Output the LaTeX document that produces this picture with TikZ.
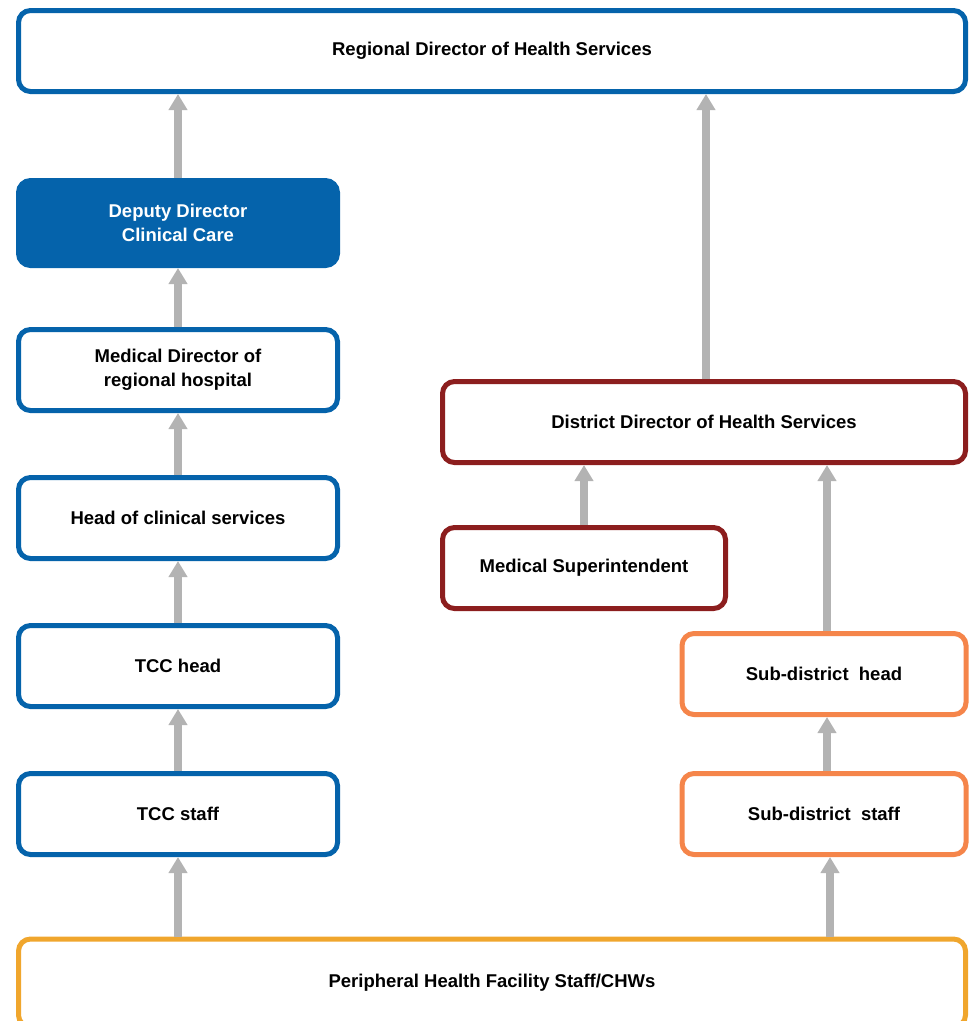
\documentclass[tikz,border=0pt]{standalone}
\usepackage{fontspec}
\setmainfont{Liberation Sans}
\usetikzlibrary{arrows.meta,calc}
\definecolor{regblue}{RGB}{5,99,171}
\definecolor{distred}{RGB}{140,30,30}
\definecolor{suborange}{RGB}{245,133,74}
\definecolor{periyellow}{RGB}{240,166,45}
\definecolor{arrgray}{RGB}{179,179,179}

\begin{document}
\begin{tikzpicture}[x=1pt, y=-1pt,
                        box/.style    ={rectangle, rounded corners=12pt, draw, line width=5pt, fill=white, align=center,
                                        minimum height=81pt, font=\fontsize{18.5}{24}\selectfont\bfseries},
                        left/.style   ={box, draw=regblue, minimum width=319pt},
                        dist/.style   ={box, draw=distred},
                        sub/.style    ={box, draw=suborange, minimum width=284pt},
                        up/.style     ={-{Triangle[width=18pt,length=16pt]}, draw, color=arrgray, line width=8pt}]

      \useasboundingbox (0, 0) rectangle (976, 1021);
      \node[box, draw=regblue, minimum width=947pt]        at(492,  51)  (regional) {Regional Director of Health Services};
      \node[left, fill=regblue, text=white, minimum height=85pt] at(178, 223) (deputy) {Deputy Director\\Clinical Care};
      \node[left]  at(178, 370)  (medDir)   {Medical Director of\\regional hospital};
      \node[left]  at(178, 518)  (head)     {Head of clinical services};
      \node[left]  at(178, 666)  (tccHead)  {TCC head};
      \node[left]  at(178, 814)  (tccStaff) {TCC staff};
      \node[dist, minimum width=523pt] at(704, 422)  (district) {District Director of Health Services};
      \node[dist, minimum width=283pt] at(584, 568)  (medSup)   {Medical Superintendent};
      \node[sub]   at(824, 674)  (subHead)  {Sub-district\ \ head};
      \node[sub]   at(824, 814)  (subStaff) {Sub-district\ \ staff};
      \node[box, draw=periyellow, minimum width=947pt, minimum height=88pt] at(492, 983) (periph) {Peripheral Health Facility Staff/CHWs};
      \path[up] (deputy)   -- (regional.south -| deputy);
      \path[up] (medDir)   -- (deputy);
      \path[up] (head)     -- (medDir);
      \path[up] (tccHead)  -- (head);
      \path[up] (tccStaff) -- (tccHead);
      \path[up] (periph.north -| tccStaff) -- (tccStaff);
      \path[up] ($(district.north)+(2, 0)$) -- ($(district.north |- regional.south)+(2, 0)$);
      \path[up] (medSup.north) -- (medSup.north |- district.south);
      \path[up] ($(subHead.north)+(3, 0)$) -- ($(subHead.north |- district.south)+(3, 0)$);
      \path[up] ($(subStaff.north)+(3, 0)$) -- ($(subHead.south)+(3, 0)$);
      \path[up] ($(periph.north -| subStaff)+(6, 0)$) -- ($(subStaff.south)+(6, 0)$);
    \end{tikzpicture}
\end{document}
